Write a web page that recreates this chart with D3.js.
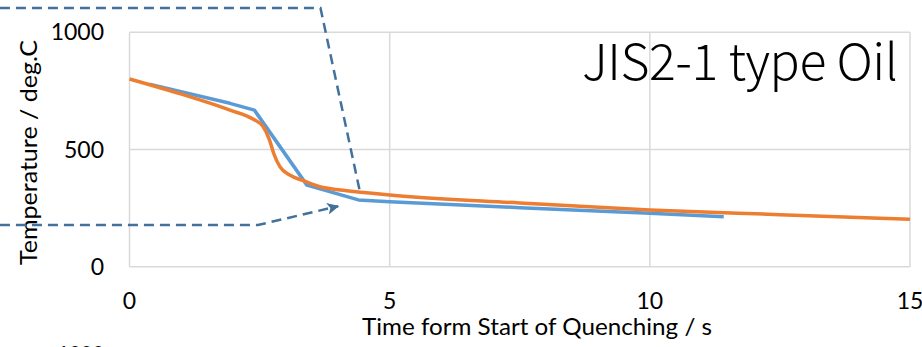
<!DOCTYPE html>
<html><head><meta charset="utf-8">
<script src="https://cdn.jsdelivr.net/npm/d3@7"></script>
<style>
html,body{margin:0;padding:0;background:#fff;overflow:hidden;}
svg{display:block;}
text{font-family:Lato,"Open Sans",sans-serif;fill:#000;}
</style></head>
<body>
<svg id="c" width="922" height="347"></svg>
<script>
// ---- data ----
const title = "JIS2-1 type Oil";
const xLabel = "Time form Start of Quenching / s";
const yLabel = "Temperature / deg.C";
const xTicks = [0, 5, 10, 15];
const yTicks = [0, 500, 1000];
// blue series (measured)
const blueT = [0.38, 1.93, 2.4, 3.41, 4.40, 5.0, 7.5, 10, 11.42];
const blueV = [779, 697, 668, 348, 285, 277, 252, 228, 213];
// orange series (simulated)
const orangeT = [0, 1.0, 1.93, 2.38, 2.57, 2.69, 2.77, 2.89, 3.08, 3.34, 3.66, 4.05, 4.5, 5.0, 7.5, 10, 12.5, 15];
const orangeV = [801, 736, 668, 629, 597, 541, 484, 427, 391, 367, 341, 327, 317, 306, 272, 242, 222, 202];
// annotation (dashed) paths in data units
const annoTopT = [-2.49, 3.67, 4.43];
const annoTopV = [1104, 1104, 318];
const annoBotT = [-2.49, 2.47, 4.01];
const annoBotV = [178, 178, 258];
const clippedLabel = "1000";

// ---- drawing ----
const svg = d3.select("#c");
const x = d3.scaleLinear().domain([0, 15]).range([129.5, 910]);
const y = d3.scaleLinear().domain([0, 1000]).range([266.7, 32.3]);
const grid = "#d9d9d9";

// gridlines
svg.append("g").selectAll("line").data(yTicks.filter(d => d > 0)).join("line")
  .attr("x1", x(0)).attr("x2", x(15)).attr("y1", d => y(d)).attr("y2", d => y(d))
  .attr("stroke", grid).attr("stroke-width", 1.5);
svg.append("g").selectAll("line").data(xTicks.filter(d => d > 0)).join("line")
  .attr("x1", d => x(d)).attr("x2", d => x(d)).attr("y1", y(0)).attr("y2", y(1000))
  .attr("stroke", grid).attr("stroke-width", 1.5);
// axis lines
svg.append("line").attr("x1", x(0)).attr("x2", x(0)).attr("y1", y(0)).attr("y2", y(1000))
  .attr("stroke", grid).attr("stroke-width", 1.5);
svg.append("line").attr("x1", x(0)).attr("x2", x(15)).attr("y1", y(0)).attr("y2", y(0))
  .attr("stroke", grid).attr("stroke-width", 1.5);

// tick labels
svg.append("g").selectAll("text").data(yTicks).join("text")
  .attr("x", 104).attr("y", d => y(d)).attr("dy", "0.35em")
  .attr("text-anchor", "end").attr("font-size", 23).text(d => d);
svg.append("g").selectAll("text").data(xTicks).join("text")
  .attr("x", d => x(d)).attr("y", 301).attr("dy", "0.35em")
  .attr("text-anchor", "middle").attr("font-size", 23).text(d => d);

// axis titles
svg.append("text").attr("x", 537).attr("y", 335).attr("text-anchor", "middle")
  .attr("font-size", 23).attr("textLength", 350).attr("lengthAdjust", "spacingAndGlyphs")
  .text(xLabel);
svg.append("text").attr("transform", "translate(37,152.5) rotate(-90)")
  .attr("text-anchor", "middle").attr("font-size", 23)
  .attr("textLength", 225).attr("lengthAdjust", "spacingAndGlyphs").text(yLabel);

// chart title
svg.append("text").attr("x", 898).attr("y", 80).attr("text-anchor", "end")
  .attr("font-size", 50).attr("font-weight", 300)
  .attr("textLength", 316).attr("lengthAdjust", "spacing")
  .style("font-family", "'Noto Sans CJK JP', Lato, sans-serif")
  .text(title);

// series
svg.append("path").datum(blueT.map((t, i) => [t, blueV[i]]))
  .attr("d", d3.line().x(d => x(d[0])).y(d => y(d[1])).curve(d3.curveLinear)).attr("fill", "none")
  .attr("stroke", "#5B9BD5").attr("stroke-width", 3.5).attr("stroke-linejoin", "round");
svg.append("path").datum(orangeT.map((t, i) => [t, orangeV[i]]))
  .attr("d", d3.line().x(d => x(d[0])).y(d => y(d[1])).curve(d3.curveMonotoneX)).attr("fill", "none")
  .attr("stroke", "#ED7D31").attr("stroke-width", 3.5).attr("stroke-linejoin", "round");

// annotation dashed lines
const annoColor = "#41719C";
svg.append("defs").append("marker").attr("id", "arr")
  .attr("viewBox", "0 0 12 12").attr("refX", 11).attr("refY", 6)
  .attr("markerWidth", 12).attr("markerHeight", 12).attr("markerUnits", "userSpaceOnUse")
  .attr("orient", "auto")
  .append("path").attr("d", "M0,0 L12,6 L0,12 L3,6 Z").attr("fill", annoColor);
const aline = d3.line().x(d => x(d[0])).y(d => y(d[1]));
svg.append("path").datum(annoTopT.map((t, i) => [t, annoTopV[i]]))
  .attr("d", aline).attr("fill", "none").attr("stroke", annoColor)
  .attr("stroke-width", 2.5).attr("stroke-dasharray", "10,6");
svg.append("path").datum(annoBotT.map((t, i) => [t, annoBotV[i]]))
  .attr("d", aline).attr("fill", "none").attr("stroke", annoColor)
  .attr("stroke-width", 2.5).attr("stroke-dasharray", "10,6")
  .attr("marker-end", "url(#arr)");

// clipped label of a chart below
svg.append("text").attr("x", 104).attr("y", 360).attr("text-anchor", "end")
  .attr("font-size", 20).text(clippedLabel);
</script>
</body></html>
